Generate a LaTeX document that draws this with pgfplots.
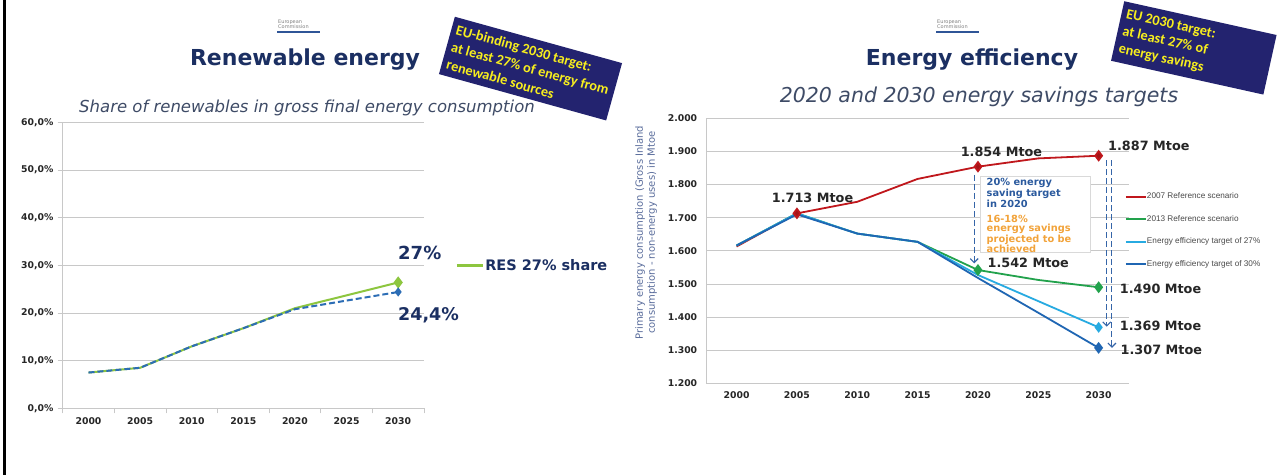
\documentclass[border=0pt]{standalone}
\usepackage{pgfplots}
\pgfplotsset{compat=1.18}
\usepackage{fontspec}
\setmainfont{DejaVu Sans}
\newfontfamily\calib{Carlito}
\newfontfamily\arialf{Liberation Sans}
\usetikzlibrary{arrows.meta}

\definecolor{titlenavy}{HTML}{1B2F62}
\definecolor{subgray}{HTML}{3E4B66}
\definecolor{gridgray}{HTML}{C8C8C8}
\definecolor{resgreen}{HTML}{8DC63F}
\definecolor{resblue}{HTML}{2C6DB5}
\definecolor{boxnavy}{HTML}{23236F}
\definecolor{boxyellow}{HTML}{F7EE1E}
\definecolor{refred}{HTML}{C0171C}
\definecolor{refgreen}{HTML}{22A24C}
\definecolor{eelight}{HTML}{27AAE1}
\definecolor{eedark}{HTML}{1F66B3}
\definecolor{arrowblue}{HTML}{3565A8}
\definecolor{notebluetext}{HTML}{2B5A9E}
\definecolor{noteorange}{HTML}{F2A33A}
\definecolor{ylabblue}{HTML}{5A6D9C}
\definecolor{legendgray}{HTML}{4A4A4A}
\definecolor{logoblue}{HTML}{2F5597}

\newcommand\fs[2]{\fontsize{#1}{#2}\selectfont}

\begin{document}
\begin{tikzpicture}
\path[fill=white,use as bounding box] (0,0) rectangle (1277pt,475pt);

% ---------------- left: renewables share ----------------
\begin{axis}[
    at={(62.7pt,66.7pt)}, anchor=south west,
    scale only axis, width=361.3pt, height=286pt,
    xmin=-0.5, xmax=6.5, ymin=0, ymax=60,
    axis x line*=bottom, axis y line*=left,
    axis line style={draw=gridgray, line width=1pt, -},
    ymajorgrids, grid style={gridgray, line width=0.8pt},
    ytick={0,10,...,60},
    yticklabel={\pgfmathprintnumber[fixed,fixed zerofill,precision=1,use comma]{\tick}\%},
    xtick={0,...,6},
    xticklabels={2000,2005,2010,2015,2020,2025,2030},
    minor xtick={-0.5,0.5,...,6.5},
    major x tick style={draw=none},
    tick align=outside, major tick length=5pt, minor tick length=5pt,
    tick style={gridgray, line width=0.8pt},
    /pgf/number format/assume math mode=true,
    tick label style={font=\fs{9.3}{10}\bfseries, text=black!85},
    xticklabel style={inner sep=0pt, yshift=-4pt},
    yticklabel style={inner sep=0pt, xshift=-4pt},
    legend style={at={(1.086,0.5)}, anchor=west, draw=none, fill=none,
        inner sep=0pt, font=\fs{14.5}{16}\bfseries, text=titlenavy,
        nodes={inner sep=1pt}},
    legend image code/.code={\draw[#1, line width=3pt] (0pt,0pt) -- (26pt,0pt);},
    clip=false,
]
\addplot[resgreen, line width=2pt, mark=diamond*, mark indices={6},
    mark size=4.5pt, mark options={fill=resgreen, draw=resgreen}]
    coordinates {(0,7.5)(1,8.5)(2,13.0)(3,16.8)(4,21.0)(6,26.4)};
\addlegendentry{RES 27\% share}
\addplot[resblue, line width=2pt, dash pattern=on 6pt off 3pt, mark=diamond*,
    mark indices={6}, mark size=3pt, mark options={solid, fill=resblue}, forget plot]
    coordinates {(0,7.5)(1,8.5)(2,13.0)(3,16.8)(4,20.8)(6,24.4)};
\end{axis}

% ---------------- right: energy efficiency ----------------
\begin{axis}[
    at={(706.4pt,91.7pt)}, anchor=south west,
    scale only axis, width=422.4pt, height=265pt,
    xmin=-0.5, xmax=6.5, ymin=1200, ymax=2000,
    axis x line*=bottom, axis y line*=left,
    axis line style={draw=gridgray, line width=1pt, -},
    ymajorgrids, grid style={gridgray, line width=0.8pt},
    ytick={1200,1300,...,2000}, scaled y ticks=false,
    yticklabel={\pgfmathprintnumber[fixed,1000 sep={.}]{\tick}},
    xtick={0,...,6},
    xticklabels={2000,2005,2010,2015,2020,2025,2030},
    tick style={draw=none},
    /pgf/number format/assume math mode=true,
    tick label style={font=\fs{9.3}{10}\bfseries, text=black!85},
    xticklabel style={inner sep=0pt, yshift=-8pt},
    yticklabel style={inner sep=0pt, xshift=-9pt},
    legend style={at={(0.99,0.577)}, anchor=west, draw=none, fill=none,
        inner sep=0pt, font=\arialf\fs{8.2}{9}, text=legendgray,
        row sep=14.5pt, nodes={inner sep=0pt, text height=6pt, text depth=2pt}},
    legend image code/.code={\draw[#1, line width=2.2pt] (0pt,0pt) -- (20pt,0pt);},
    legend cell align=left,
    clip=false,
]
\addplot[refred, line width=1.8pt, mark=diamond*, mark indices={2,5,7},
    mark size=4.5pt, mark options={fill=refred!85!black}]
    coordinates {(0,1613)(1,1713)(2,1748)(3,1817)(4,1854)(5,1879)(6,1887)};
\addlegendentry{2007 Reference scenario}
\addplot[refgreen, line width=1.8pt, mark=diamond*, mark indices={5,7},
    mark size=4.5pt, mark options={fill=refgreen}]
    coordinates {(0,1616)(1,1713)(2,1652)(3,1627)(4,1542)(5,1512)(6,1490)};
\addlegendentry{2013 Reference scenario}
\addplot[eelight, line width=1.8pt, mark=diamond*, mark indices={6},
    mark size=4pt, mark options={fill=eelight}]
    coordinates {(0,1616)(1,1713)(2,1652)(3,1627)(4,1527)(6,1369)};
\addlegendentry{Energy efficiency target of 27\%}
\addplot[eedark, line width=1.8pt, mark=diamond*, mark indices={7},
    mark size=4.5pt, mark options={fill=eedark}]
    coordinates {(0,1616)(1,1710)(2,1652)(3,1627)(4,1518)(5,1413)(6,1307)};
\addlegendentry{Energy efficiency target of 30\%}
\draw[arrowblue, line width=1.1pt, dash pattern=on 6pt off 3pt, -{Straight Barb[length=4pt]}]
    (axis cs:3.937,1829) -- (axis cs:3.937,1562);
\draw[arrowblue, line width=1.1pt, dash pattern=on 6pt off 3pt, -{Straight Barb[length=4pt]}]
    (axis cs:6.133,1874) -- (axis cs:6.133,1371);
\draw[arrowblue, line width=1.1pt, dash pattern=on 6pt off 3pt, -{Straight Barb[length=4pt]}]
    (axis cs:6.22,1874) -- (axis cs:6.22,1307);
\end{axis}

% ---------------- slide decorations (pixel frame, y downwards) ----------------
\begin{scope}[x=1pt, y=-1pt, shift={(0pt,475pt)}]
\draw[black, line width=3pt] (4,0) -- (4,475);

% logos
\node[anchor=south west, font=\fs{5}{5.5}, text=gray, align=left, inner sep=0pt] at (278,29) {European\\Commission};
\draw[logoblue, line width=1.5pt] (277,32) -- (320,32);
\node[anchor=south west, font=\fs{5}{5.5}, text=gray, align=left, inner sep=0pt] at (937,29) {European\\Commission};
\draw[logoblue, line width=1.5pt] (936,32) -- (979,32);

% titles
\node[font=\fs{22}{26}\bfseries, text=titlenavy] at (305,60) {Renewable energy};
\node[font=\fs{22}{26}\bfseries, text=titlenavy] at (972,60) {Energy efficiency};
\node[font=\itshape\fs{16.5}{19}, text=subgray] at (307,108) {Share of renewables in gross final energy consumption};
\node[font=\itshape\fs{20.5}{24}, text=subgray] at (979,97) {2020 and 2030 energy savings targets};

% rotated target boxes
\node[fill=boxnavy, rotate=-15.5, minimum width=173.5pt, minimum height=59.5pt, inner sep=0pt] (lbox) at (530.5,68.6) {};
\node[rotate=-15.5, anchor=west, inner xsep=5pt, inner ysep=0pt, align=left,
    font=\calib\bfseries\fs{14.3}{18}, text=boxyellow] at (lbox.west)
    {EU-binding 2030 target:\\at least 27\% of energy from\\renewable sources};
\node[fill=boxnavy, rotate=-12.5, minimum width=156pt, minimum height=61pt, inner sep=0pt] (rbox) at (1193.8,47.9) {};
\node[rotate=-12.5, anchor=west, inner xsep=5pt, inner ysep=0pt, align=left,
    font=\calib\bfseries\fs{14.3}{17.5}, text=boxyellow] at (rbox.west)
    {EU 2030 target:\\at least 27\% of\\energy savings};

% left chart value labels
\node[anchor=west, inner sep=0pt, font=\fs{18}{20}\bfseries, text=titlenavy] at (398,253.3) {27\%};
\node[anchor=west, inner sep=0pt, font=\fs{17.5}{20}\bfseries, text=titlenavy] at (398,315.7) {24,4\%};

% right chart y label
\node[rotate=90, align=center, font=\fs{10}{12}, text=ylabblue] at (646,232.7)
    {Primary energy consumption (Gross Inland\\consumption - non-energy uses) in Mtoe};

% right chart note box
\node[fill=white, draw=gridgray!70, line width=0.6pt, anchor=north west, minimum width=110pt,
    minimum height=76pt, inner sep=0pt] at (980,176) {};
\node[anchor=north west, align=left, inner sep=0pt, font=\fs{9.8}{9}\bfseries, text=notebluetext]
    at (986.5,178.5) {20\% energy\\saving target\\in 2020};
\node[anchor=north west, align=left, inner sep=0pt, font=\fs{9.8}{9}\bfseries, text=noteorange]
    at (986.5,215) {16-18\%\\energy savings\\projected to be\\achieved};

% right chart value labels
\foreach \t/\x/\y in {1.713/771.7/197.7, 1.854/960.6/152.3, 1.887/1108/146,
                      1.542/987.4/262.5, 1.490/1119.7/289, 1.369/1119.7/326, 1.307/1120.5/350}
    \node[anchor=west, inner sep=0pt, font=\fs{12.8}{14}\bfseries, text=black!85] at (\x,\y) {\t\ Mtoe};
\end{scope}
\end{tikzpicture}
\end{document}
